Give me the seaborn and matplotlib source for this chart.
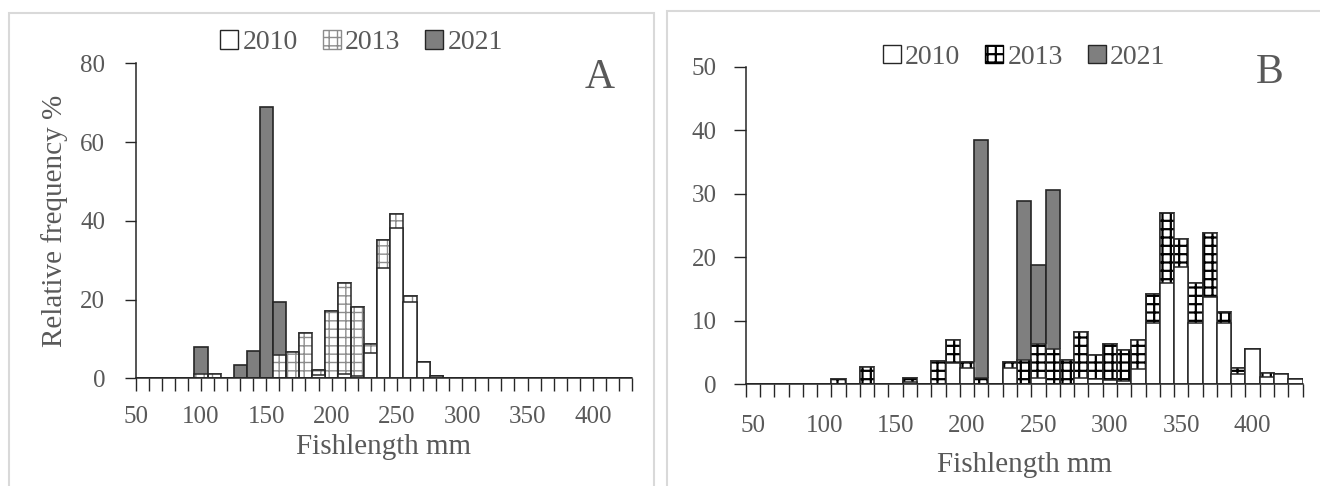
import numpy as np
import matplotlib
matplotlib.use("Agg")
import matplotlib.pyplot as plt
import seaborn as sns
from matplotlib.patches import Patch, Rectangle

# fish length classes (mm), 10 mm bins
lengths = list(range(50, 440, 10))

# panel A, relative frequency %
a_2010 = [0, 0, 0, 0, 0, 0, 0, 0, 0, 0, 0, 0, 0, 0, 0.9, 0, 1.2, 0.7, 6.4, 28.1,
          38.1, 19.5, 4.2, 0.7, 0, 0, 0, 0, 0, 0, 0, 0, 0, 0, 0, 0, 0, 0, 0]
a_2013 = [0, 0, 0, 0, 0, 1.2, 1.2, 0, 0, 0, 0, 5.8, 6.8, 11.4, 1.2, 17.1, 23.1, 17.3, 2.3, 7.0,
          3.7, 1.4, 0, 0, 0, 0, 0, 0, 0, 0, 0, 0, 0, 0, 0, 0, 0, 0, 0]
a_2021 = [0, 0, 0, 0, 0, 6.8, 0, 0, 3.4, 6.9, 68.8, 13.7, 0, 0, 0, 0, 0, 0, 0, 0,
          0, 0, 0, 0, 0, 0, 0, 0, 0, 0, 0, 0, 0, 0, 0, 0, 0, 0, 0]

# panel B
b_2010 = [0, 0, 0, 0, 0, 0, 0, 0, 0, 0, 0, 0.4, 0, 0, 3.3, 2.6, 0, 0, 2.6, 0,
          1.0, 0, 0, 1.0, 0.8, 0.7, 0.5, 2.4, 9.6, 15.9, 18.4, 9.6, 13.7, 9.6, 1.7, 5.6, 1.2, 1.7, 0.8]
b_2013 = [0, 0, 0, 0, 0, 0, 0.9, 0, 2.7, 0, 0, 0.6, 0, 3.7, 3.6, 0.9, 1.0, 0, 0.9, 3.8,
          5.4, 5.6, 3.8, 7.2, 3.8, 5.6, 4.9, 4.6, 4.6, 11.0, 4.5, 6.4, 10.1, 1.8, 0.8, 0, 0.6, 0, 0]
b_2021 = [0, 0, 0, 0, 0, 0, 0, 0, 0, 0, 0, 0, 0, 0, 0, 0, 37.4, 0, 0, 25.0,
          12.4, 25.0, 0, 0, 0, 0, 0, 0, 0, 0, 0, 0, 0, 0, 0, 0, 0, 0, 0]

years = ["2010", "2013", "2021"]
tick_labels = ["50", "100", "150", "200", "250", "300", "350", "400"]

sns.set_style("ticks")
plt.rcParams["font.family"] = ["Liberation Serif", "DejaVu Serif"]
plt.rcParams["hatch.linewidth"] = 1.0
txt = "#595959"
dark = "#7f7f7f"

fig = plt.figure(figsize=(13.2, 4.86), dpi=100)

# grey frames round the two charts
fig.patches.append(Rectangle((9 / 1320, -0.01), 645 / 1320, 1 - 13 / 486 + 0.01,
                             transform=fig.transFigure, fill=False, edgecolor="#d9d9d9", lw=1.5))
fig.patches.append(Rectangle((667 / 1320, -0.01), 660 / 1320, 1 - 11 / 486 + 0.01,
                             transform=fig.transFigure, fill=False, edgecolor="#d9d9d9", lw=1.5))


def stacked(ax, v10, v13, v21, hatch_col):
    s10 = np.array(v10)
    s13 = s10 + np.array(v13)
    s21 = s13 + np.array(v21)
    # draw from the top layer down, each one covering the one below
    sns.barplot(x=lengths, y=s21, color=dark, width=1, edgecolor="#262626",
                linewidth=1.2, errorbar=None, ax=ax)
    sns.barplot(x=lengths, y=s13, color="white", width=1, errorbar=None, ax=ax)
    sns.barplot(x=lengths, y=s13, color="white", width=1, errorbar=None, ax=ax,
                hatch="++", edgecolor=hatch_col, linewidth=0)
    sns.barplot(x=lengths, y=s13, fill=False, color="#262626", width=1,
                linewidth=1.1, errorbar=None, ax=ax)
    sns.barplot(x=lengths, y=s10, color="white", width=1, edgecolor="#262626",
                linewidth=1.1, errorbar=None, ax=ax)


def legend(ax, hatch_col, x, y):
    handles = [Patch(facecolor="white", edgecolor="#262626", label=years[0]),
               Patch(facecolor="white", edgecolor=hatch_col, hatch="++", label=years[1]),
               Patch(facecolor=dark, edgecolor="#262626", label=years[2])]
    ax.legend(handles=handles, loc="center", bbox_to_anchor=(x, y), ncol=3,
              frameon=False, fontsize=20, labelcolor=txt, handlelength=0.65,
              handleheight=0.65, handletextpad=0.15, columnspacing=0.9)


def style(ax):
    sns.despine(ax=ax)
    for sp in ["left", "bottom"]:
        ax.spines[sp].set_color("#262626")
        ax.spines[sp].set_linewidth(1.1)
    ax.tick_params(axis="both", which="both", colors="#262626", labelcolor=txt,
                   labelsize=18, width=1.0)


# panel A
axA = fig.add_axes([135.7 / 1320, 1 - 378.3 / 486, 496.3 / 1320, 315 / 486])
stacked(axA, a_2010, a_2013, a_2021, "#8c8c8c")
style(axA)
axA.set_xlim(0, 38)
axA.set_ylim(0, 80)
axA.set_yticks([0, 20, 40, 60, 80])
axA.set_xticks(range(39))
axA.set_xticklabels([str(v) if v % 50 == 0 else "" for v in lengths])
axA.tick_params(axis="x", length=9, pad=11)
axA.tick_params(axis="y", length=8, pad=14)
axA.set_xlabel("Fishlength mm", fontsize=21, color=txt, labelpad=4)
axA.set_ylabel("Relative frequency %", fontsize=21, color=txt, labelpad=9)
axA.text(0.935, 0.955, "A", transform=axA.transAxes, fontsize=30, color=txt,
         ha="center", va="center")
legend(axA, "#8c8c8c", 0.455, 1.065)

# panel B
axB = fig.add_axes([745.7 / 1320, 1 - 384.3 / 486, 556.9 / 1320, 317.6 / 486])
plt.rcParams["hatch.linewidth"] = 1.6
stacked(axB, b_2010, b_2013, b_2021, "black")
style(axB)
axB.set_xlim(-0.5, 38.5)
axB.set_ylim(0, 50)
axB.set_yticks([0, 10, 20, 30, 40, 50])
axB.set_xticks(np.arange(-0.5, 39, 1))
axB.set_xticklabels([])
axB.set_xticks(range(0, 39, 5), labels=tick_labels, minor=True)
axB.tick_params(axis="x", which="major", length=9)
axB.tick_params(axis="x", which="minor", length=0, pad=22)
axB.tick_params(axis="y", length=9, pad=12)
axB.set_xlabel("Fishlength mm", fontsize=21, color=txt, labelpad=11)
axB.text(0.94, 0.98, "B", transform=axB.transAxes, fontsize=30, color=txt,
         ha="center", va="center")
legend(axB, "black", 0.5, 1.03)

fig.savefig("out.png", dpi=100)
